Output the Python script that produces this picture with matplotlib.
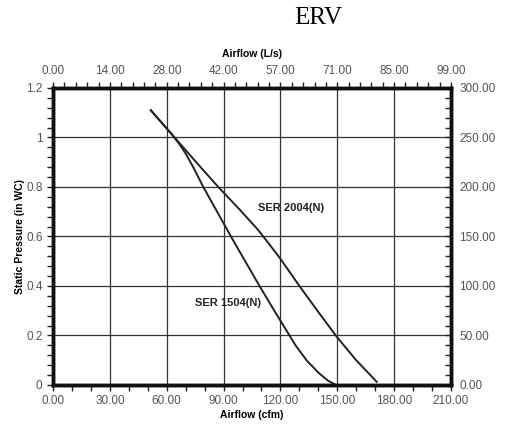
import matplotlib.pyplot as plt
from matplotlib.ticker import MultipleLocator

# curve data (cfm, in WC)
ser1504_cfm = [51.6, 63.0, 66.5, 70.0, 74.0, 79.3, 95.0, 109.2, 116.0, 122.0, 128.0, 134.0, 140.0, 145.0, 149.3]
ser1504_wc = [1.11, 1.01, 0.975, 0.935, 0.88, 0.80, 0.585, 0.397, 0.31, 0.235, 0.16, 0.098, 0.05, 0.018, 0.0]
ser2004_cfm = [51.6, 63.0, 75.0, 87.2, 98.7, 108.3, 114.0, 119.8, 130.3, 140.0, 149.7, 160.0, 170.8]
ser2004_wc = [1.11, 1.01, 0.905, 0.80, 0.707, 0.626, 0.57, 0.512, 0.397, 0.295, 0.195, 0.10, 0.013]

cfm_ticks = [0, 30, 60, 90, 120, 150, 180, 210]
ls_labels = ["0.00", "14.00", "28.00", "42.00", "57.00", "71.00", "85.00", "99.00"]
wc_ticks = [0, 0.2, 0.4, 0.6, 0.8, 1.0, 1.2]
wc_labels = ["0", "0.2", "0.4", "0.6", "0.8", "1", "1.2"]
pa_labels = ["0.00", "50.00", "100.00", "150.00", "200.00", "250.00", "300.00"]

sans = ["Liberation Sans", "DejaVu Sans"]
tick_col = "#555555"
lbl_size = 8.5

fig = plt.figure(figsize=(5.05, 4.24), dpi=100)
ax = fig.add_axes([0.105, 0.092, 0.788, 0.7005])

ax.plot(ser1504_cfm, ser1504_wc, color="#222222", lw=1.4)
ax.plot(ser2004_cfm, ser2004_wc, color="#222222", lw=1.4)

ax.set_xlim(0, 210)
ax.set_ylim(0, 1.2)
ax.set_xticks(cfm_ticks)
ax.set_xticklabels([f"{v:.2f}" for v in cfm_ticks])
ax.set_yticks(wc_ticks)
ax.set_yticklabels(wc_labels)
ax.xaxis.set_minor_locator(MultipleLocator(10))
ax.yaxis.set_minor_locator(MultipleLocator(0.04))
ax.grid(True, color="#333333", lw=0.9)
ax.tick_params(which="both", direction="out", length=4, width=1, colors="#222222",
               labelcolor=tick_col, labelsize=lbl_size)
for lab in ax.get_xticklabels() + ax.get_yticklabels():
    lab.set_family(sans)
for sp in ax.spines.values():
    sp.set_linewidth(2.4)
    sp.set_color("#111111")

# top axis: L/s
top = ax.twiny()
top.set_xlim(0, 210)
top.set_xticks(cfm_ticks)
top.set_xticklabels(ls_labels)
top.xaxis.set_minor_locator(MultipleLocator(6))
top.tick_params(which="both", direction="out", length=4, width=1, colors="#222222",
                labelcolor=tick_col, labelsize=lbl_size, pad=4)
for lab in top.get_xticklabels():
    lab.set_family(sans)

# right axis: Pa
right = ax.twinx()
right.set_ylim(0, 1.2)
right.set_yticks(wc_ticks)
right.set_yticklabels(pa_labels)
right.yaxis.set_minor_locator(MultipleLocator(0.04))
right.tick_params(which="both", direction="in", length=4, width=1, colors="#222222",
                  labelcolor=tick_col, labelsize=lbl_size, pad=6)
for lab in right.get_yticklabels():
    lab.set_family(sans)
for a in (top, right):
    for sp in a.spines.values():
        sp.set_linewidth(2.4)
        sp.set_color("#111111")

ax.set_xlabel("Airflow (cfm)", family=sans, weight="bold", fontsize=7.5, labelpad=2)
top.set_xlabel("Airflow (L/s)", family=sans, weight="bold", fontsize=7.5, labelpad=6)
ax.set_ylabel("Static Pressure (in WC)", family=sans, weight="bold", fontsize=7.5, labelpad=1)

ax.text(125.6, 0.715, "SER 2004(N)", family=sans, weight="bold", fontsize=8,
        ha="center", va="center", color="#222222")
ax.text(92.3, 0.331, "SER 1504(N)", family=sans, weight="bold", fontsize=8,
        ha="center", va="center", color="#222222")

fig.text(0.63, 0.957, "ERV", family=["Liberation Serif", "DejaVu Serif"], fontsize=18,
         ha="center", va="center")

fig.savefig("out.png", dpi=100)
